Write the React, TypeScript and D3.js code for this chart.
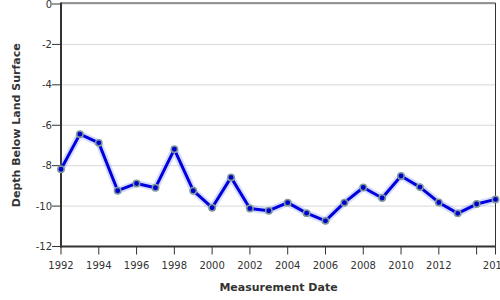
import React from "react";
import * as d3 from "d3";

const years = [1992,1993,1994,1995,1996,1997,1998,1999,2000,2001,2002,2003,2004,2005,2006,2007,2008,2009,2010,2011,2012,2013,2014,2015];
const depths = [-8.18,-6.44,-6.87,-9.24,-8.88,-9.09,-7.19,-9.24,-10.08,-8.58,-10.12,-10.23,-9.83,-10.35,-10.73,-9.83,-9.08,-9.60,-8.51,-9.06,-9.82,-10.36,-9.90,-9.67];
const yTicks = [0,-2,-4,-6,-8,-10,-12];
const xTicks = [1992,1994,1996,1998,2000,2002,2004,2006,2008,2010,2012,2014,2015];
const xLabels: Record<number,string> = {1992:"1992",1994:"1994",1996:"1996",1998:"1998",2000:"2000",2002:"2002",2004:"2004",2006:"2006",2008:"2008",2010:"2010",2012:"2012",2014:"",2015:"2015"};
const xTitle = "Measurement Date";
const yTitle = "Depth Below Land Surface";

export default function App() {
  const W = 500, H = 300;
  const left = 61, right = 495.5, top = 4, bottom = 246.5;
  const x = d3.scaleLinear().domain([1992, 2015]).range([left, right]);
  const y = d3.scaleLinear().domain([0, -12]).range([top, bottom]);
  const pts = years.map((yr, i) => [x(yr), y(depths[i])] as [number, number]);
  const line = d3.line()(pts) || "";
  const font = "'DejaVu Sans', Verdana, sans-serif";
  return (
    <div style={{ position: "fixed", left: 0, top: 0 }}>
      <svg width={W} height={H} style={{ display: "block", background: "#fff" }} fontFamily={font}>
        {yTicks.map(t => (
          <line key={"g" + t} x1={left} x2={right} y1={y(t)} y2={y(t)} stroke="#d8d8d8" strokeWidth={1} />
        ))}
        <line x1={left} x2={right} y1={top - 1} y2={top - 1} stroke="#333" strokeWidth={1} />
        <line x1={right} x2={right} y1={top - 1} y2={bottom} stroke="#333" strokeWidth={1} />
        <line x1={left} x2={left} y1={top - 1.5} y2={bottom + 1} stroke="#333" strokeWidth={2} />
        <line x1={left - 1} x2={right} y1={bottom} y2={bottom} stroke="#333" strokeWidth={2} />
        {yTicks.map(t => (
          <g key={"y" + t}>
            <line x1={left - 9} x2={left} y1={y(t)} y2={y(t)} stroke="#333" strokeWidth={1} />
            <text x={left - 9} y={y(t)} dy="0.35em" textAnchor="end" fontSize={10} fill="#333">{String(t)}</text>
          </g>
        ))}
        {xTicks.map(t => (
          <g key={"x" + t}>
            <line x1={x(t)} x2={x(t)} y1={bottom} y2={bottom + 8} stroke="#333" strokeWidth={1} />
            <text x={x(t)} y={269} textAnchor="middle" fontSize={10} fill="#333">{xLabels[t]}</text>
          </g>
        ))}
        <path d={line} fill="none" stroke="rgba(90,110,255,0.25)" strokeWidth={7} strokeLinejoin="round" />
        <path d={line} fill="none" stroke="#0000dd" strokeWidth={3} strokeLinejoin="round" />
        {pts.map((p, i) => (
          <circle key={i} cx={p[0]} cy={p[1]} r={3.2} fill="#0000cc" stroke="#7f9a98" strokeWidth={1.5} />
        ))}
        <text x={278.5} y={291} textAnchor="middle" fontSize={11} fontWeight="bold" fill="#333">{xTitle}</text>
        <text transform={`translate(19.5,${(top + bottom) / 2}) rotate(-90)`} textAnchor="middle" fontSize={11} fontWeight="bold" fill="#333">{yTitle}</text>
      </svg>
    </div>
  );
}
